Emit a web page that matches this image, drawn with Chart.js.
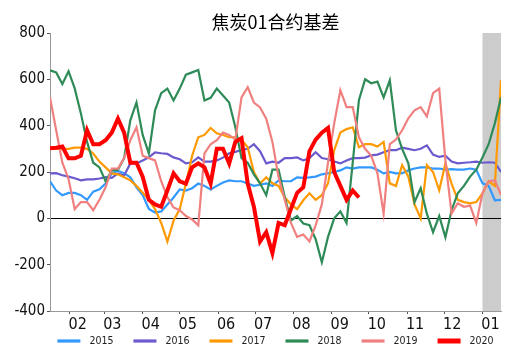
<!DOCTYPE html>
<html>
<head>
<meta charset="utf-8">
<script src="https://cdn.jsdelivr.net/npm/chart.js@4.4.1/dist/chart.umd.min.js"></script>
<style>
  html, body { margin: 0; padding: 0; background: #fff; }
  #wrap { width: 519px; height: 351px; position: relative; }
</style>
</head>
<body>
<div id="wrap"><canvas id="chart" width="519" height="351"></canvas></div>
<script>
const chartTitle = "焦炭01合约基差";
const monthLabels = ["02", "03", "04", "05", "06", "07", "08", "09", "10", "11", "12", "01"];
// day offsets (from mid-January) of the first day of each month
const monthDays = [16, 44, 75, 105, 136, 166, 197, 228, 258, 289, 319, 350];
const sampleStep = 5; // days between samples
const shadeFrom = 350, shadeTo = 365;

const years = ["2015", "2016", "2017", "2018", "2019", "2020"];
const colors = ["#3399ff", "#6a5acd", "#ff9900", "#2e8b57", "#f08080", "#ff0000"];

const basis2015 = [160, 120, 100, 110, 110, 100, 80, 115, 125, 150, 194, 205, 195, 177, 134, 100, 40, 25, 30, 60,
  90, 125, 120, 130, 150, 140, 125, 140, 155, 164, 160, 160, 150, 140, 145, 151, 140, 164, 160, 160,
  177, 175, 177, 180, 190, 194, 200, 207, 220, 215, 220, 220, 220, 210, 194, 200, 194, 195, 207, 215,
  220, 220, 215, 215, 210, 212, 210, 210, 215, 210, 151, 140, 78, 80];
const basis2016 = [194, 195, 186, 180, 173, 164, 168, 168, 172, 178, 175, 194, 185, 237, 237, 250, 263, 285, 281, 278,
  263, 255, 237, 242, 263, 245, 245, 250, 262, 281, 287, 295, 300, 320, 290, 237, 245, 240, 260, 260,
  263, 250, 260, 285, 260, 255, 245, 237, 250, 260, 260, 262, 272, 275, 285, 294, 294, 305, 300, 294,
  300, 315, 275, 265, 270, 245, 237, 240, 242, 245, 240, 242, 240, 200];
const basis2017 = [300, 300, 300, 300, 305, 305, 300, 280, 245, 220, 194, 190, 177, 164, 140, 110, 80, 40, -20, -100,
  -10, 40, 150, 270, 350, 360, 390, 367, 360, 350, 350, 340, 307, 200, 150, 177, 151, 140, 91, 60,
  40, 78, 108, 80, 100, 151, 294, 370, 385, 393, 307, 320, 320, 310, 330, 151, 140, 230, 180, 60,
  0, 230, 200, 121, 237, 150, 80, 70, 65, 70, 108, 160, 140, 596];
const basis2018 = [639, 630, 580, 635, 561, 453, 330, 240, 220, 160, 207, 210, 260, 423, 500, 360, 280, 466, 540, 560,
  509, 560, 620, 630, 640, 509, 520, 560, 530, 500, 393, 260, 240, 190, 151, 100, 210, 210, 91, -10,
  10, -22, -30, -90, -190, -80, 0, 30, -20, 240, 510, 600, 583, 590, 522, 596, 380, 300, 237, 70,
  130, 20, -60, 10, -82, 35, 108, 140, 180, 210, 263, 320, 410, 522];
const basis2019 = [522, 380, 240, 170, 40, 70, 70, 35, 80, 134, 215, 215, 260, 337, 393, 270, 260, 250, 160, 91,
  47, 35, 10, -5, -30, 280, 320, 337, 370, 360, 340, 522, 566, 500, 479, 430, 330, 177, 80, -20,
  -80, -70, -100, -30, 60, 240, 410, 553, 480, 480, 350, 300, 270, 194, 20, 320, 340, 380, 432, 466,
  480, 440, 540, 560, 250, 20, 65, 50, 55, -20, 108, 160, 164, 100];
const basis2020 = [302, 305, 310, 259, 259, 270, 380, 320, 320, 337, 370, 430, 370, 240, 240, 180, 80, 60, 50, 120,
  194, 160, 150, 220, 237, 220, 150, 300, 300, 237, 330, 346, 150, 50, -100, -60, -150, -20, -30, 40,
  110, 134, 290, 340, 370, 390, 200, 140, 80, 120, 90];

const series = [basis2015, basis2016, basis2017, basis2018, basis2019, basis2020];

const narrowFont = '"DejaVu Sans Condensed", "DejaVu Sans", sans-serif';

const datasets = series.map((vals, i) => ({
  label: years[i],
  data: vals.map((v, k) => ({ x: k * sampleStep, y: v })),
  borderColor: colors[i],
  backgroundColor: colors[i],
  borderWidth: i === 5 ? 4 : 2.2,
  pointRadius: 0,
  tension: 0,
  order: series.length - i
}));

const shadePlugin = {
  id: "shade",
  beforeDraw(chart) {
    const { ctx, chartArea, scales } = chart;
    const x1 = scales.x.getPixelForValue(shadeFrom);
    const x2 = scales.x.getPixelForValue(shadeTo);
    ctx.save();
    ctx.fillStyle = "#cccccc";
    ctx.fillRect(x1, chartArea.top, x2 - x1, chartArea.bottom - chartArea.top);
    ctx.restore();
  }
};

// title + legend centred over the plot area
const decorPlugin = {
  id: "decor",
  afterDraw(chart) {
    const { ctx, chartArea } = chart;
    const cx = (chartArea.left + chartArea.right) / 2;
    ctx.save();
    ctx.fillStyle = "#000";
    ctx.font = '18px "Noto Sans CJK SC", sans-serif';
    ctx.textAlign = "center";
    ctx.textBaseline = "middle";
    ctx.fillText(chartTitle, cx, 22);

    ctx.font = "10.5px " + narrowFont;
    const swatch = 23, gap = 9, spacing = 20;
    const widths = chart.data.datasets.map(d => swatch + gap + ctx.measureText(d.label).width);
    const total = widths.reduce((a, b) => a + b, 0) + spacing * (widths.length - 1);
    let x = cx - total / 2;
    const y = 341;
    ctx.textAlign = "left";
    chart.data.datasets.forEach((d, i) => {
      ctx.strokeStyle = d.borderColor;
      ctx.lineWidth = d.borderWidth + 1;
      ctx.beginPath();
      ctx.moveTo(x, y);
      ctx.lineTo(x + swatch, y);
      ctx.stroke();
      ctx.fillStyle = "#222";
      ctx.fillText(d.label, x + swatch + gap, y);
      x += widths[i] + spacing;
    });
    ctx.restore();
  }
};

new Chart(document.getElementById("chart"), {
  type: "line",
  data: { datasets },
  options: {
    responsive: false,
    animation: false,
    layout: { padding: { top: 33, right: 18, left: 0, bottom: 0 } },
    plugins: { legend: { display: false }, title: { display: false }, tooltip: { enabled: false } },
    scales: {
      x: {
        type: "linear",
        min: 0,
        max: 365,
        afterBuildTicks: s => { s.ticks = monthDays.map(v => ({ value: v })); },
        afterFit: s => { s.height = 40; },
        ticks: {
          callback: v => monthLabels[monthDays.indexOf(v)],
          font: { family: narrowFont, size: 16 },
          color: "#111",
          labelOffset: 8,
          padding: 1,
          maxRotation: 0,
          autoSkip: false
        },
        grid: { drawOnChartArea: false, tickLength: 3, tickColor: "#555" },
        border: { color: "#999" }
      },
      y: {
        min: -400,
        max: 800,
        afterFit: s => { s.width = 50; },
        ticks: {
          stepSize: 200,
          font: { family: narrowFont, size: 15 },
          color: "#111",
          padding: 2
        },
        grid: {
          color: c => (c.tick && c.tick.value === 0 ? "#000" : "rgba(0,0,0,0)"),
          tickColor: "#555",
          tickLength: 3
        },
        border: { color: "#999" }
      }
    }
  },
  plugins: [shadePlugin, decorPlugin]
});
</script>
</body>
</html>
